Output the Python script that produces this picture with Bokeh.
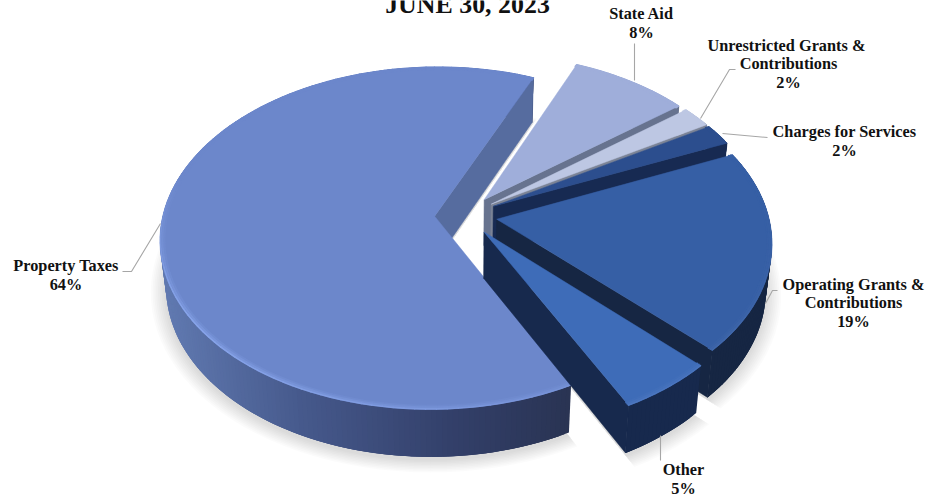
import math
from bokeh.core.properties import value
from bokeh.embed import file_html
from bokeh.models import Range1d
from bokeh.plotting import figure
from bokeh.resources import INLINE

# Revenue shares, clockwise from the first slice
categories = ["State Aid", "Unrestricted Grants & Contributions", "Charges for Services",
              "Operating Grants & Contributions", "Other", "Property Taxes"]
shares = [8, 2, 2, 19, 5, 64]
title_text = "JUNE 30, 2023"

# Per-slice styling, same order as the shares
top_colors = ["#9FAEDA", "#BDC7E3", "#2C4E8E", "#365FA5", "#3E6CB8", "#6C87CB"]
cut_colors = ["#67738F", "#7C8496", "#172A52", "#162643", "#17294D", "#566C9F"]
wall_stops = [
    [(0, "#67738F"), (927, "#67738F")],
    [(0, "#7C8496"), (927, "#7C8496")],
    [(0, "#172A52"), (927, "#172A52")],
    [(0, "#162643"), (927, "#162643")],
    [(0, "#17294D"), (927, "#17294D")],
    [(165, "#6079B0"), (300, "#46598C"), (450, "#33406A"), (575, "#293352")],
]
rim_colors = ["#B4C0E4", "#CBD3EA", "#3F63A6", "#6E8AC0", "#6E90D0", "#8DAAF0"]
explode = [0.12, 0.12, 0.12, 0.12, 0.12, 0.11]

# Projection of the tilted pie plane onto the page
X0, Y0 = 464.0, 215.0
R, RT, K = 271.7, 168.2, 0.1286
DEPTH, FLOOR_X = 46.0, 0.98
START = 23.2


def project(u, v):
    w = 1.0 / (1.0 - K * v)
    return X0 + R * u * w, Y0 + RT * v * w


def floor(u, v):
    x, y = project(u, v)
    return X0 + (x - X0) * FLOOR_X, y + DEPTH + 1.5 * v


def hex_rgb(c):
    return tuple(int(c[i:i + 2], 16) for i in (1, 3, 5))


def mix(c0, c1, t):
    a, b = hex_rgb(c0), hex_rgb(c1)
    return "#%02x%02x%02x" % tuple(round(p + (q - p) * t) for p, q in zip(a, b))


def ramp(stops, x):
    if x <= stops[0][0]:
        return stops[0][1]
    for (x0, c0), (x1, c1) in zip(stops, stops[1:]):
        if x <= x1:
            return mix(c0, c1, (x - x0) / (x1 - x0))
    return stops[-1][1]


# Angular extent of each slice, from its share
spans = []
angle = START
for s in shares:
    spans.append((angle, angle + s * 3.6))
    angle += s * 3.6


def arc(a0, a1, step=1.0):
    n = max(2, int(abs(a1 - a0) / step) + 1)
    return [a0 + (a1 - a0) * i / (n - 1) for i in range(n)]


def offset(i):
    mid = math.radians(sum(spans[i]) / 2)
    return explode[i] * math.sin(mid), -explode[i] * math.cos(mid)


p = figure(width=927, height=497, output_backend="svg", toolbar_location=None,
           x_range=Range1d(0, 927), y_range=Range1d(497, 0), min_border=0,
           background_fill_color="white", border_fill_color="white", outline_line_color=None)
p.axis.visible = False
p.grid.visible = False

# Soft drop shadow beneath every slice
shadow_xs, shadow_ys = [], []
for layer in range(9):
    grow = 0.004 + layer * 0.0065
    for i, (a0, a1) in enumerate(spans):
        du, dv = offset(i)
        xs, ys = [], []
        pts = [(du, dv)] + [(du + (1 + grow) * math.sin(math.radians(a)),
                             dv - (1 + grow) * math.cos(math.radians(a))) for a in arc(a0, a1, 3)]
        for u, v in pts:
            x, y = floor(u, v)
            xs.append(x)
            ys.append(y + 3)
        shadow_xs.append(xs)
        shadow_ys.append(ys)
p.patches(shadow_xs, shadow_ys, fill_color="#000000", fill_alpha=0.016, line_color=None)


def draw_slice(i):
    a0, a1 = spans[i]
    du, dv = offset(i)
    top = lambda a, r=1.0: project(du + r * math.sin(math.radians(a)), dv - r * math.cos(math.radians(a)))
    low = lambda a: floor(du + math.sin(math.radians(a)), dv - math.cos(math.radians(a)))
    apex_top, apex_low = project(du, dv), floor(du, dv)

    # Outer rim wall, shaded strip by strip; each strip runs under the next to hide seams
    angles = arc(a0, a1)
    xs, ys, cs = [], [], []
    for b0, b1 in zip(angles, angles[1:]):
        b2 = min(b1 + 2.0, a1)
        t0, t1, l0, l1 = top(b0), top(b2), low(b0), low(b2)
        xs.append([t0[0], t1[0], l1[0], l0[0]])
        ys.append([t0[1], t1[1], l1[1], l0[1]])
        cs.append(ramp(wall_stops[i], top((b0 + b1) / 2)[0]))
    p.patches(xs, ys, fill_color=cs, line_color=None)

    # Cut face along the trailing edge
    e_top, e_low = top(a1), low(a1)
    p.patch([apex_top[0], e_top[0], e_low[0], apex_low[0]],
            [apex_top[1], e_top[1], e_low[1], apex_low[1]],
            fill_color=cut_colors[i], line_color=cut_colors[i], line_width=0.5)

    # Flat top of the slice
    pts = [apex_top] + [top(a) for a in angles]
    p.patch([q[0] for q in pts], [q[1] for q in pts], fill_color=top_colors[i], line_color=top_colors[i],
            line_width=0.5)

    # Bevel highlight along the outer edge, strongest at the front left
    for inset, width, strength in ((0.016, 2.0, 0.18), (0.009, 2.0, 0.45), (0.002, 1.6, 0.9)):
        xs, ys, cs = [], [], []
        for b0, b1 in zip(angles[::2], angles[2::2]):
            mid = math.radians((b0 + b1) / 2)
            front = max(0.0, min(1.0, (0.25 - math.cos(mid)) / 0.8)) * (0.55 - 0.45 * math.sin(mid))
            q0, q1 = top(b0, 1 - inset), top(b1, 1 - inset)
            xs.append([q0[0], q1[0]])
            ys.append([q0[1], q1[1]])
            cs.append(mix(top_colors[i], rim_colors[i], strength * front))
        p.multi_line(xs, ys, line_color=cs, line_width=width, line_cap="round")


# The large slice sits behind the exploded group
draw_slice(5)
for i in range(5):
    draw_slice(i)

# Leader lines
leaders_x = [[160, 131, 122], [634, 634], [700, 729, 735], [722, 767], [765, 772, 777], [660, 660]]
leaders_y = [[223, 271, 271], [80, 43], [118, 69, 69], [133, 137], [303, 290, 290], [435, 460]]
p.multi_line(leaders_x, leaders_y, line_color="#A6A6A6", line_width=1.1)

# Data labels, one row per text line
label_rows = []
for name, share, lines, cx, ys in [
    (categories[5], shares[5], ["Property Taxes"], 65.5, [265, 284]),
    (categories[0], shares[0], ["State Aid"], 641, [13, 32]),
    (categories[1], shares[1], ["Unrestricted  Grants &", "Contributions"], 788, [45, 63, 82]),
    (categories[2], shares[2], ["Charges for Services"], 844, [131, 150]),
    (categories[3], shares[3], ["Operating Grants &", "Contributions"], 853, [284, 302, 321]),
    (categories[4], shares[4], ["Other"], 683, [469, 488]),
]:
    for line, y in zip(lines + [f"{share}%"], ys):
        label_rows.append((cx, y, line))

p.text([r[0] for r in label_rows], [r[1] for r in label_rows], text=[r[2] for r in label_rows],
       text_font=value("Liberation Serif"), text_font_style="bold", text_font_size="16.3px",
       text_color="#111111", text_align="center", text_baseline="middle")
p.text([467], [4], text=[title_text], text_font=value("Liberation Serif"), text_font_style="bold",
       text_font_size="25.9px", text_color="#111111", text_align="center", text_baseline="middle")

open("out.html", "w").write(file_html(p, INLINE))
